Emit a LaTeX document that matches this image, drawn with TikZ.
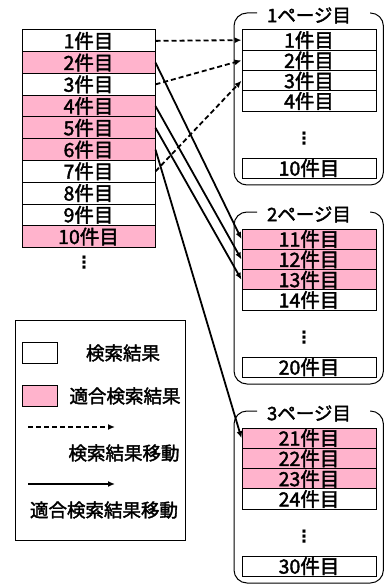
\documentclass[tikz,border=0pt]{standalone}
\usepackage{fontspec}
\setmainfont{Noto Sans CJK JP}[FakeBold=2]
\newfontfamily\dotfont{DejaVu Sans}
\usetikzlibrary{arrows.meta}
\definecolor{hitpink}{RGB}{255,179,204}

\begin{document}
\begin{tikzpicture}[x=1pt, y=-1pt,
        every node/.style={font=\fontsize{18.5}{18.5}\selectfont, inner sep=0pt},
        item/.style={draw, line width=1pt, minimum width=133pt, minimum height=21.75pt,
                font=\fontsize{19.5}{19.5}\selectfont},
        pitem/.style={draw, line width=1pt, minimum width=134pt, minimum height=20.3pt,
                font=\fontsize{19.5}{19.5}\selectfont},
        dots/.style={font=\dotfont\bfseries\fontsize{17}{17}\selectfont},
        frame/.style={line width=1pt, rounded corners=13pt},
        move/.style={line width=1.8pt, dash pattern=on 5pt off 3pt, -{Latex[length=7pt,width=6pt]}},
        hitmove/.style={line width=1.8pt, -{Latex[length=7pt,width=6pt]}}]
        \useasboundingbox (0,0) rectangle (384,585);

        % search results
        \foreach \i/\col in {1/white,2/hitpink,3/white,4/hitpink,5/hitpink,
                6/hitpink,7/white,8/white,9/white,10/hitpink}
                \node[item, fill=\col] (s\i) at (88.5,{30+(\i-0.5)*21.75}) {\i{}件目};
        \node[dots] (sdots) at (84,263) {⋮};

        % pages
        \foreach \k/\col in {0/white,1/hitpink,2/hitpink} {
                \pgfmathsetmacro\pgoff{199*\k}
                \pgfmathtruncatemacro\pg{\k+1}
                \draw[frame] (257,{13+\pgoff}) -- (234,{13+\pgoff}) -- (234,{185+\pgoff})
                        -- (383.4,{185+\pgoff}) -- (383.4,{13+\pgoff}) -- (370,{13+\pgoff});
                \node (t\pg) at (309,{15.5+\pgoff}) {\pg{}ページ目};
                \foreach \j in {1,2,3} {
                        \pgfmathtruncatemacro\nr{10*\k+\j}
                        \node[pitem, fill=\col] (p\nr) at (309,{30+\pgoff+(\j-0.5)*20.3}) {\nr{}件目};
                }
                \pgfmathtruncatemacro\nr{10*\k+4}
                \node[pitem] (p\nr) at (309,{30+\pgoff+3.5*20.3}) {\nr{}件目};
                \node[dots] (pdots\pg) at (304,{139+\pgoff}) {⋮};
                \pgfmathtruncatemacro\nr{10*\k+10}
                \node[pitem] (p\nr) at (309,{168.2+\pgoff}) {\nr{}件目};
        }

        % moves
        \draw[move] (s1.east) -- (p1.west);
        \draw[move] (s3.east) -- (p2.west);
        \draw[move] (s7.east) -- (p3.west);
        \draw[hitmove] (s2.east) -- (p11.west);
        \draw[hitmove] (s4.east) -- (p12.west);
        \draw[hitmove] (s5.east) -- (p13.west);
        \draw[hitmove] (s6.east) -- (p21.west);

        % legend
        \node[draw, line width=1pt, minimum width=170pt, minimum height=220pt] (legend) at (100,430) {};
        \node[draw, minimum width=35pt, minimum height=21pt] (kw) at (39.5,352.5) {};
        \node (kwt) at (123,353) {検索結果};
        \node[draw, fill=hitpink, minimum width=35pt, minimum height=21pt] (kp) at (39.5,395.5) {};
        \node (kpt) at (125,396) {適合検索結果};
        \coordinate (ma) at (28,427);
        \coordinate (mb) at (115,427);
        \draw[move] (ma) -- (mb);
        \node (mt) at (124,453) {検索結果移動};
        \coordinate (ha) at (28,484);
        \coordinate (hb) at (115,484);
        \draw[hitmove] (ha) -- (hb);
        \node (ht) at (104,510) {適合検索結果移動};
\end{tikzpicture}
\end{document}
